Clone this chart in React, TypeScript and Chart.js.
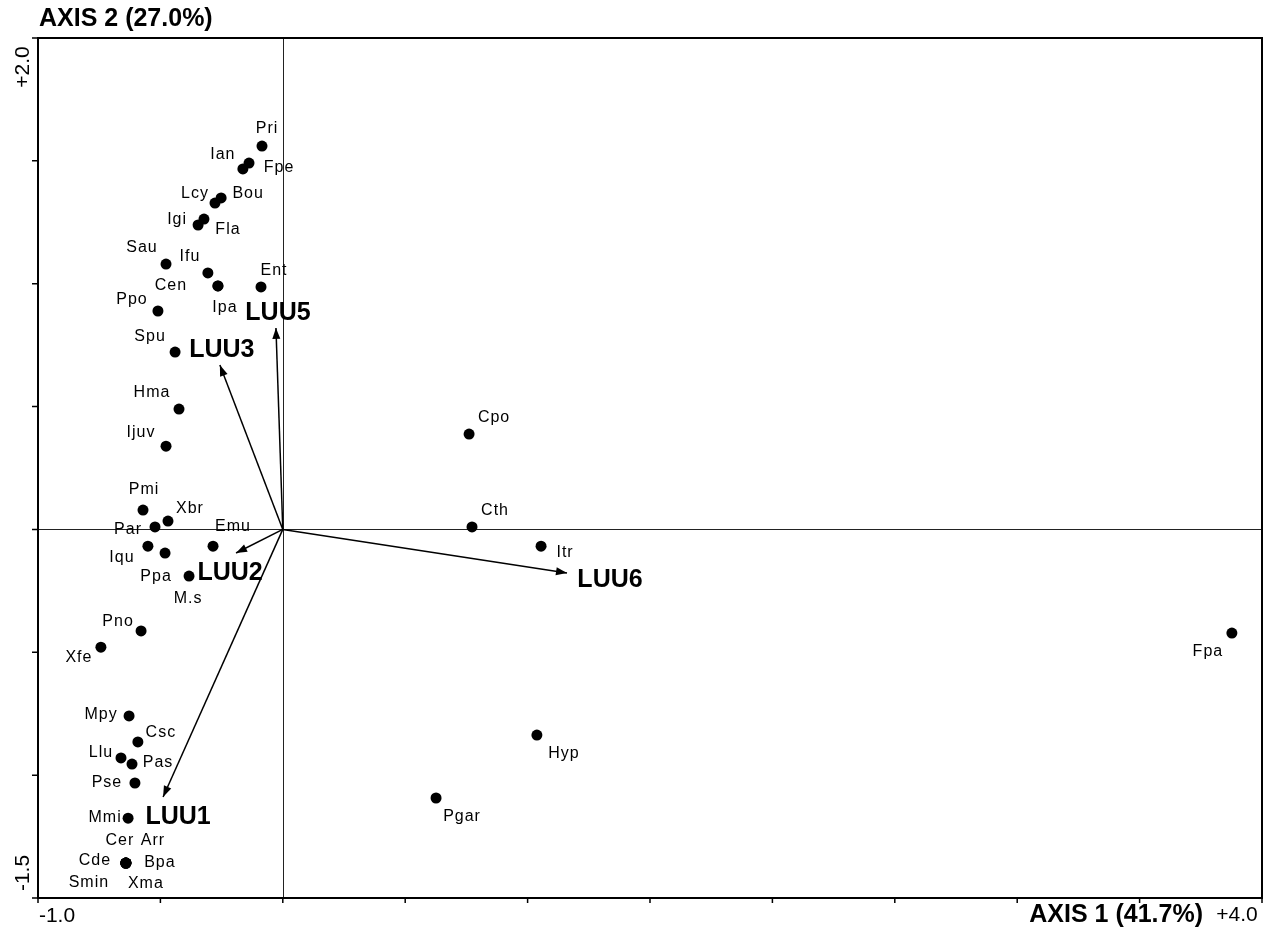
import React, { useEffect, useRef } from 'react';
import { Chart, registerables } from 'chart.js';

Chart.register(...registerables);

// ---- Species scores (axis 1, axis 2) ----
const speciesNames = [
  'Pri', 'Ian', 'Fpe', 'Lcy', 'Bou', 'Igi', 'Fla', 'Sau', 'Ifu', 'Cen', 'Ipa', 'Ent',
  'Ppo', 'Spu', 'Hma', 'Ijuv', 'Pmi', 'Xbr', 'Par', 'Iqu', 'Ppa', 'Emu', 'M.s',
  'Pno', 'Xfe', 'Mpy', 'Csc', 'Llu', 'Pas', 'Pse', 'Mmi',
  'Cer', 'Arr', 'Cde', 'Bpa', 'Smin', 'Xma',
  'Cpo', 'Cth', 'Itr', 'Hyp', 'Pgar', 'Fpa',
];
const speciesX = [
  -0.085, -0.163, -0.138, -0.277, -0.252, -0.346, -0.322, -0.477, -0.306, -0.265, -0.265, -0.089,
  -0.51, -0.44, -0.424, -0.477, -0.571, -0.469, -0.522, -0.551, -0.481, -0.285, -0.383,
  -0.579, -0.743, -0.628, -0.592, -0.661, -0.616, -0.604, -0.632,
  -0.641, -0.641, -0.641, -0.641, -0.641, -0.641,
  0.761, 0.773, 1.055, 1.038, 0.626, 3.877,
];
const speciesY = [
  1.56, 1.467, 1.491, 1.328, 1.349, 1.239, 1.263, 1.08, 1.044, 0.991, 0.991, 0.987,
  0.889, 0.722, 0.49, 0.339, 0.079, 0.034, 0.01, -0.068, -0.096, -0.068, -0.19,
  -0.413, -0.479, -0.759, -0.865, -0.93, -0.955, -1.032, -1.175,
  -1.358, -1.358, -1.358, -1.358, -1.358, -1.358,
  0.388, 0.01, -0.068, -0.837, -1.093, -0.422,
];
// label placement relative to its point (pixels, text centre)
const speciesLabelOffsets: [number, number][] = [
  [5, -18], [-20, -14], [30, 5], [-20, -10], [27, -4], [-21, -5], [24, 11], [-24, -16], [-18, -16], [-47, 0], [7, 22], [13, -16],
  [-26, -11], [-25, -15], [-27, -16], [-25, -14], [1, -20], [22, -12], [-27, 3], [-26, 11], [-9, 24], [20, -20], [-1, 22],
  [-23, -9], [-22, 10], [-28, -1], [23, -9], [-20, -5], [26, -1], [-28, 0], [-23, -1],
  [-6, -23], [27, -23], [-31, -3], [34, -1], [-37, 19], [20, 20],
  [25, -16], [23, -16], [24, 6], [27, 19], [26, 19], [-24, 18],
];

// ---- Environmental variable arrows ----
const envNames = ['LUU1', 'LUU2', 'LUU3', 'LUU5', 'LUU6'];
const envX = [-0.489, -0.191, -0.257, -0.028, 1.161];
const envY = [-1.089, -0.096, 0.669, 0.82, -0.177];
const envLabelOffsets: [number, number][] = [[15, 20], [-6, 20], [2, -15], [2, -15], [43, 7]];

// ---- Axes ----
const xMin = -1.0;
const xMax = 4.0;
const yMin = -1.5;
const yMax = 2.0;
const xTickValues = [-1, -0.5, 0, 0.5, 1, 1.5, 2, 2.5, 3, 3.5, 4];
const yTickValues = [-1.5, -1, -0.5, 0, 0.5, 1, 1.5, 2];
const xMinLabel = '-1.0';
const xMaxLabel = '+4.0';
const yMinLabel = '-1.5';
const yMaxLabel = '+2.0';
const xTitle = 'AXIS 1 (41.7%)';
const yTitle = 'AXIS 2 (27.0%)';

const FONT = "'Liberation Sans', Arial, Helvetica, sans-serif";

const biplotPlugin = {
  id: 'biplot',
  beforeDatasetsDraw(chart: any) {
    const { ctx, chartArea: a, scales } = chart;
    const x0 = Math.round(scales.x.getPixelForValue(0)) + 0.5;
    const y0 = Math.round(scales.y.getPixelForValue(0)) + 0.5;
    ctx.save();
    ctx.strokeStyle = '#222';
    ctx.lineWidth = 1;
    ctx.beginPath();
    ctx.moveTo(x0, a.top);
    ctx.lineTo(x0, a.bottom);
    ctx.moveTo(a.left, y0);
    ctx.lineTo(a.right, y0);
    ctx.stroke();
    ctx.restore();
  },
  afterDatasetsDraw(chart: any) {
    const { ctx, chartArea: a, scales } = chart;
    const sx = scales.x;
    const sy = scales.y;
    const ox = sx.getPixelForValue(0);
    const oy = sy.getPixelForValue(0);
    ctx.save();

    // arrowheads
    ctx.fillStyle = '#000';
    envNames.forEach((_, i) => {
      const tx = sx.getPixelForValue(envX[i]);
      const ty = sy.getPixelForValue(envY[i]);
      const ang = Math.atan2(ty - oy, tx - ox);
      const len = 11;
      const hw = 4;
      const bx = tx - len * Math.cos(ang);
      const by = ty - len * Math.sin(ang);
      ctx.beginPath();
      ctx.moveTo(tx, ty);
      ctx.lineTo(bx + hw * Math.sin(ang), by - hw * Math.cos(ang));
      ctx.lineTo(bx - hw * Math.sin(ang), by + hw * Math.cos(ang));
      ctx.closePath();
      ctx.fill();
    });

    // species labels
    ctx.textAlign = 'center';
    ctx.textBaseline = 'middle';
    ctx.font = `16px ${FONT}`;
    (ctx as any).letterSpacing = '1px';
    speciesNames.forEach((name, i) => {
      const px = sx.getPixelForValue(speciesX[i]);
      const py = sy.getPixelForValue(speciesY[i]);
      ctx.fillText(name, px + speciesLabelOffsets[i][0], py + speciesLabelOffsets[i][1]);
    });
    (ctx as any).letterSpacing = '0px';

    // env labels
    ctx.font = `bold 25px ${FONT}`;
    envNames.forEach((name, i) => {
      const px = sx.getPixelForValue(envX[i]);
      const py = sy.getPixelForValue(envY[i]);
      ctx.fillText(name, px + envLabelOffsets[i][0], py + envLabelOffsets[i][1]);
    });

    // frame
    ctx.strokeStyle = '#000';
    ctx.lineWidth = 2;
    ctx.strokeRect(a.left, a.top, a.right - a.left, a.bottom - a.top);

    // tick marks
    ctx.lineWidth = 1.5;
    ctx.beginPath();
    xTickValues.forEach((v) => {
      const px = sx.getPixelForValue(v);
      ctx.moveTo(px, a.bottom);
      ctx.lineTo(px, a.bottom + 5);
    });
    yTickValues.forEach((v) => {
      const py = sy.getPixelForValue(v);
      ctx.moveTo(a.left, py);
      ctx.lineTo(a.left - 6, py);
    });
    ctx.stroke();

    // axis end labels
    ctx.font = `21px ${FONT}`;
    ctx.textBaseline = 'middle';
    ctx.textAlign = 'center';
    ctx.fillText(xMinLabel, sx.getPixelForValue(xMin) + 19, a.bottom + 18);
    ctx.fillText(xMaxLabel, sx.getPixelForValue(xMax) - 25, a.bottom + 17);

    const drawRot = (txt: string, x: number, y: number) => {
      ctx.save();
      ctx.translate(x, y);
      ctx.rotate(-Math.PI / 2);
      ctx.fillText(txt, 0, 0);
      ctx.restore();
    };
    drawRot(yMaxLabel, a.left - 15, sy.getPixelForValue(yMax) + 29);
    drawRot(yMinLabel, a.left - 15, sy.getPixelForValue(yMin) - 25);

    // axis titles
    ctx.font = `bold 25px ${FONT}`;
    ctx.textAlign = 'right';
    ctx.fillText(xTitle, sx.getPixelForValue(xMax) - 59, a.bottom + 17);
    ctx.textAlign = 'left';
    ctx.fillText(yTitle, a.left + 1, a.top - 19);

    ctx.restore();
  },
};

export default function App() {
  const ref = useRef<HTMLCanvasElement | null>(null);

  useEffect(() => {
    document.body.style.margin = '0';
    const canvas = ref.current;
    if (!canvas) return;

    const speciesData = speciesNames.map((_, i) => ({ x: speciesX[i], y: speciesY[i] }));
    const arrowSets = envNames.map((name, i) => ({
      label: name,
      data: [
        { x: 0, y: 0 },
        { x: envX[i], y: envY[i] },
      ],
      showLine: true,
      borderColor: '#000',
      borderWidth: 1.5,
      pointRadius: 0,
      fill: false,
    }));

    const chart = new Chart(canvas, {
      type: 'scatter',
      data: {
        datasets: [
          {
            label: 'species',
            data: speciesData,
            pointRadius: 5.5,
            pointBackgroundColor: '#000',
            pointBorderWidth: 0,
            borderColor: '#000',
          },
          ...arrowSets,
        ] as any,
      },
      options: {
        animation: false,
        responsive: false,
        events: [],
        layout: { padding: { left: 38, top: 38, right: 9, bottom: 34 } },
        plugins: { legend: { display: false }, tooltip: { enabled: false } },
        scales: {
          x: { type: 'linear', min: xMin, max: xMax, display: false },
          y: { type: 'linear', min: yMin, max: yMax, display: false },
        },
      },
      plugins: [biplotPlugin],
    });

    return () => chart.destroy();
  }, []);

  return (
    <div style={{ width: 1271, height: 932, background: '#fff' }}>
      <canvas ref={ref} width={1271} height={932} style={{ display: 'block' }} />
    </div>
  );
}
